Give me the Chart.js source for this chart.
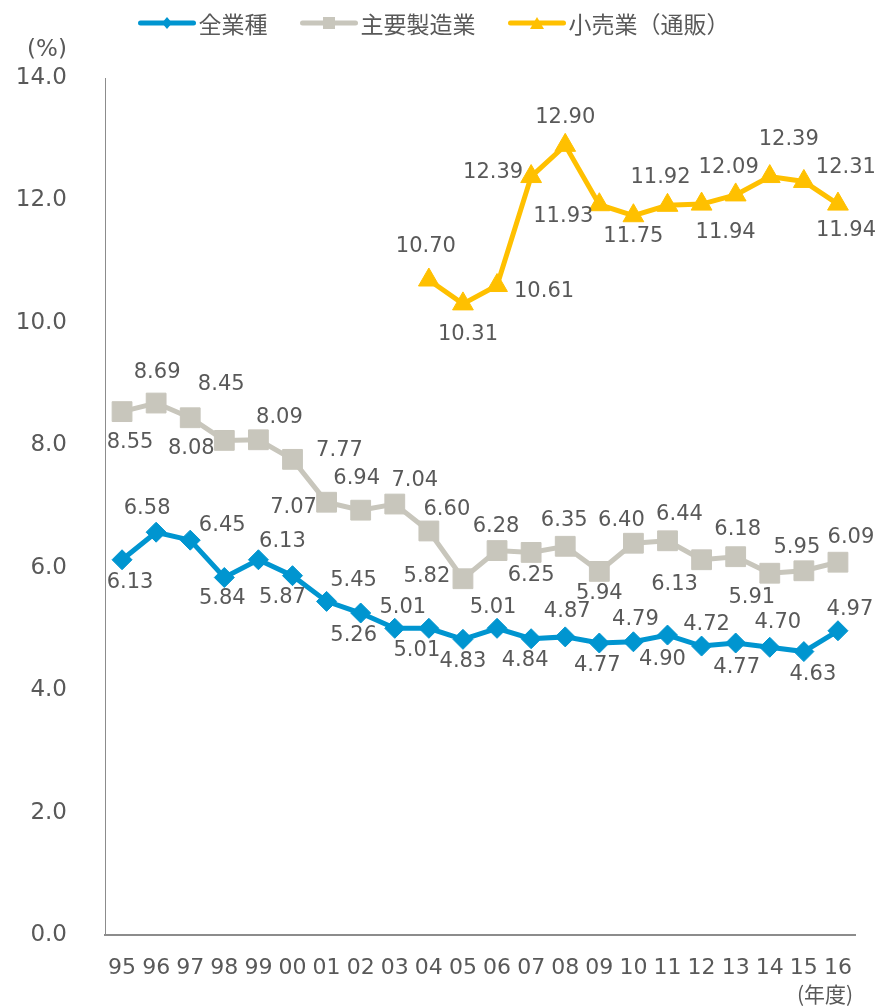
<!DOCTYPE html>
<html lang="ja">
<head>
<meta charset="utf-8">
<title>売上高経常利益率の推移</title>
<script src="https://cdn.jsdelivr.net/npm/chart.js@4.4.1/dist/chart.umd.min.js"></script>
<style>
  html, body { margin: 0; padding: 0; background: #fff; }
  #wrap { width: 878px; height: 1006px; }
</style>
</head>
<body>
<div id="wrap"><canvas id="grafik" width="878" height="1006"></canvas></div>
<script>
// データ (年度別, %)
const yearLabels = ['95', '96', '97', '98', '99', '00', '01', '02', '03', '04', '05',
  '06', '07', '08', '09', '10', '11', '12', '13', '14', '15', '16'];
const allIndustry = [6.13, 6.58, 6.45, 5.84, 6.13, 5.87, 5.45, 5.26, 5.01, 5.01, 4.83,
  5.01, 4.84, 4.87, 4.77, 4.79, 4.90, 4.72, 4.77, 4.70, 4.63, 4.97];
const manufacturing = [8.55, 8.69, 8.45, 8.08, 8.09, 7.77, 7.07, 6.94, 7.04, 6.60, 5.82,
  6.28, 6.25, 6.35, 5.94, 6.40, 6.44, 6.13, 6.18, 5.91, 5.95, 6.09];
const retailMailOrder = [null, null, null, null, null, null, null, null, null, 10.70, 10.31,
  10.61, 12.39, 12.90, 11.93, 11.75, 11.92, 11.94, 12.09, 12.39, 12.31, 11.94];
const yTicks = [0, 2, 4, 6, 8, 10, 12, 14];

// 数値ラベルの置き場所 (点からのずれ px)
const allIndustryLabelPos = [[8, 23], [-9, -24], [32, -15], [-2, 21], [24, -18], [-10, 22],
  [27, -21], [-7, 23], [8, -21], [-12, 22], [0, 22], [-4, -21], [-6, 22], [2, -25],
  [-2, 23], [2, -22], [-5, 24], [5, -22], [1, 25], [8, -25], [9, 23], [12, -21]];
const manufacturingLabelPos = [[8, 31], [1, -31], [31, -33], [-33, 8], [21, -22], [47, -9],
  [-33, 5], [-4, -32], [20, -24], [18, -21], [-36, -2], [-1, -24], [0, 23], [-1, -26],
  [0, 22], [-12, -23], [12, -26], [-27, 25], [2, -27], [-18, 24], [-7, -23], [13, -25]];
const retailLabelPos = [null, null, null, null, null, null, null, null, null, [-3, -33],
  [5, 31], [47, 6], [-38, -4], [0, -28], [-36, 12], [0, 21], [-7, -28], [24, 28],
  [-7, -27], [19, -37], [42, -14], [8, 26]];

const labelColor = '#595959';
const axisColor = '#8c8c8c';

const seriesList = [
  { label: '全業種', data: allIndustry, pos: allIndustryLabelPos, color: '#0095d0', point: 'rectRot', radius: 10 },
  { label: '主要製造業', data: manufacturing, pos: manufacturingLabelPos, color: '#c8c6bc', point: 'rect', radius: 14 },
  { label: '小売業（通販）', data: retailMailOrder, pos: retailLabelPos, color: '#ffc000', point: 'triangle', radius: 12 }
];

// 数値ラベル
const valueLabels = {
  id: 'valueLabels',
  afterDatasetsDraw(chart) {
    const ctx = chart.ctx;
    ctx.save();
    ctx.font = '21px "DejaVu Sans"';
    ctx.fillStyle = labelColor;
    ctx.textAlign = 'center';
    ctx.textBaseline = 'middle';
    chart.data.datasets.forEach((ds, i) => {
      const meta = chart.getDatasetMeta(i);
      meta.data.forEach((pt, j) => {
        const v = ds.data[j];
        if (v == null) return;
        const off = seriesList[i].pos[j];
        ctx.fillText(v.toFixed(2), pt.x + off[0], pt.y + off[1]);
      });
    });
    ctx.restore();
  }
};

// 凡例マーカー
function legendMarker(ctx, style, x, y, color) {
  ctx.fillStyle = color;
  ctx.beginPath();
  if (style === 'rectRot') {
    ctx.moveTo(x - 5, y); ctx.lineTo(x, y - 6); ctx.lineTo(x + 5, y); ctx.lineTo(x, y + 6);
  } else if (style === 'rect') {
    ctx.rect(x - 6, y - 6, 12, 12);
  } else {
    ctx.moveTo(x - 7, y + 6); ctx.lineTo(x, y - 6); ctx.lineTo(x + 7, y + 6);
  }
  ctx.closePath();
  ctx.fill();
}

// 凡例と軸の単位
const extraText = {
  id: 'extraText',
  afterDraw(chart) {
    const ctx = chart.ctx;
    ctx.save();
    ctx.font = '23px "Noto Sans CJK JP"';
    ctx.textBaseline = 'middle';
    const lineLen = 57, gapText = 3, gapItem = 33;
    const widths = seriesList.map(s => ctx.measureText(s.label).width);
    let total = 0;
    widths.forEach((w, i) => { total += lineLen + gapText + w + (i < widths.length - 1 ? gapItem : 0); });
    let x = 434 - total / 2;
    const y = 23;
    seriesList.forEach((s, i) => {
      ctx.strokeStyle = s.color;
      ctx.lineWidth = 5;
      ctx.lineCap = 'round';
      ctx.beginPath();
      ctx.moveTo(x + 2, y);
      ctx.lineTo(x + lineLen - 2, y);
      ctx.stroke();
      legendMarker(ctx, s.point, x + lineLen / 2, y, s.color);
      ctx.fillStyle = labelColor;
      ctx.textAlign = 'left';
      ctx.fillText(s.label, x + lineLen + gapText, y + 1);
      x += lineLen + gapText + widths[i] + gapItem;
    });

    ctx.textAlign = 'center';
    ctx.font = '23px "DejaVu Sans"';
    ctx.fillText('(%)', 47, 50);
    ctx.font = '21px "Noto Sans CJK JP"';
    ctx.fillText('(年度)', 825, 994);
    ctx.restore();
  }
};

const chart = new Chart(document.getElementById('grafik'), {
  type: 'line',
  data: {
    labels: yearLabels,
    datasets: seriesList.map(s => ({
      label: s.label,
      data: s.data,
      borderColor: s.color,
      backgroundColor: s.color,
      borderWidth: 5,
      pointStyle: s.point,
      pointRadius: s.radius,
      pointHoverRadius: s.radius,
      pointBorderWidth: 1,
      pointBorderColor: s.color,
      pointBackgroundColor: s.color,
      tension: 0,
      fill: false
    }))
  },
  options: {
    responsive: false,
    animation: false,
    events: [],
    layout: { padding: { top: 78, right: 23, bottom: 0, left: 0 } },
    plugins: {
      legend: { display: false },
      tooltip: { enabled: false }
    },
    scales: {
      x: {
        offset: true,
        grid: { display: false, drawTicks: false },
        border: { display: true, color: axisColor, width: 2 },
        ticks: {
          autoSkip: false,
          maxRotation: 0,
          padding: 20,
          color: labelColor,
          font: { family: 'DejaVu Sans', size: 22 }
        },
        afterFit(scale) { scale.height = 71; }
      },
      y: {
        min: 0,
        max: 14,
        grid: { display: false, drawTicks: false },
        border: { display: true, color: axisColor, width: 1 },
        ticks: {
          padding: 38,
          color: labelColor,
          font: { family: 'DejaVu Sans', size: 23 },
          callback: v => v.toFixed(1)
        },
        afterBuildTicks(scale) { scale.ticks = yTicks.map(v => ({ value: v })); },
        afterFit(scale) { scale.width = 105; }
      }
    }
  },
  plugins: [valueLabels, extraText]
});
</script>
</body>
</html>
